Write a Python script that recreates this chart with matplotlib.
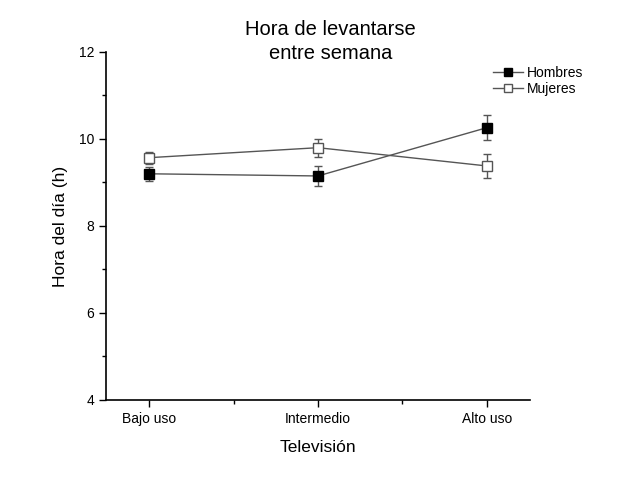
import matplotlib
matplotlib.use("Agg")
import matplotlib.pyplot as plt
from matplotlib.ticker import MultipleLocator, FixedLocator
from matplotlib.lines import Line2D

plt.rcParams['font.family'] = ['Liberation Sans', 'DejaVu Sans']

categories = ["Bajo uso", "Intermedio", "Alto uso"]
hombres = [9.20, 9.15, 10.26]
hombres_err = [0.16, 0.22, 0.28]
mujeres = [9.57, 9.80, 9.38]
mujeres_err = [0.14, 0.21, 0.27]

fig = plt.figure(figsize=(6.18, 4.8), dpi=100)
ax = fig.add_axes([0.1715, 0.1667, 0.686, 0.725])
x = list(range(len(categories)))

ax.errorbar(x, hombres, yerr=hombres_err, color='#555555', lw=1.0,
            marker='s', ms=7, mfc='black', mec='black', ecolor='#555555',
            elinewidth=1.0, capsize=3, zorder=3)
ax.errorbar(x, mujeres, yerr=mujeres_err, color='#555555', lw=1.0,
            marker='s', ms=7, mfc='white', mec='#555555', ecolor='#555555',
            elinewidth=1.0, capsize=3, zorder=3)

ax.set_xlim(-0.255, 2.255)
ax.set_ylim(4, 12)
ax.set_xticks(x)
ax.set_xticklabels(categories, fontsize=10)
ax.xaxis.set_minor_locator(FixedLocator([0.5, 1.5]))
ax.set_yticks([4, 6, 8, 10, 12])
ax.yaxis.set_minor_locator(MultipleLocator(1))
ax.tick_params(axis='y', labelsize=10)
ax.tick_params(which='major', length=5, width=1, direction='out')
ax.tick_params(which='minor', length=3, width=1, direction='out')
for s in ['top', 'right']:
    ax.spines[s].set_visible(False)
for s in ['left', 'bottom']:
    ax.spines[s].set_linewidth(1.2)

ax.set_xlabel("Televisión", fontsize=12.5, labelpad=10)
ax.set_ylabel("Hora del día (h)", fontsize=12.5, labelpad=8)
fig.text(0.535, 0.958, "Hora de levantarse\nentre semana", ha='center', va='top',
         fontsize=14.5, linespacing=1.3)

handles = [
    Line2D([], [], color='#555555', lw=1.0, marker='s', ms=6, mfc='black', mec='black'),
    Line2D([], [], color='#555555', lw=1.0, marker='s', ms=6, mfc='white', mec='#555555'),
]
ax.legend(handles, ["Hombres", "Mujeres"], loc='upper right',
          bbox_to_anchor=(1.14, 0.975), frameon=False,
          fontsize=10, handlelength=2.2, handletextpad=0.3,
          labelspacing=0.15, borderaxespad=0)

fig.savefig("out.png", dpi=100, facecolor='white')
